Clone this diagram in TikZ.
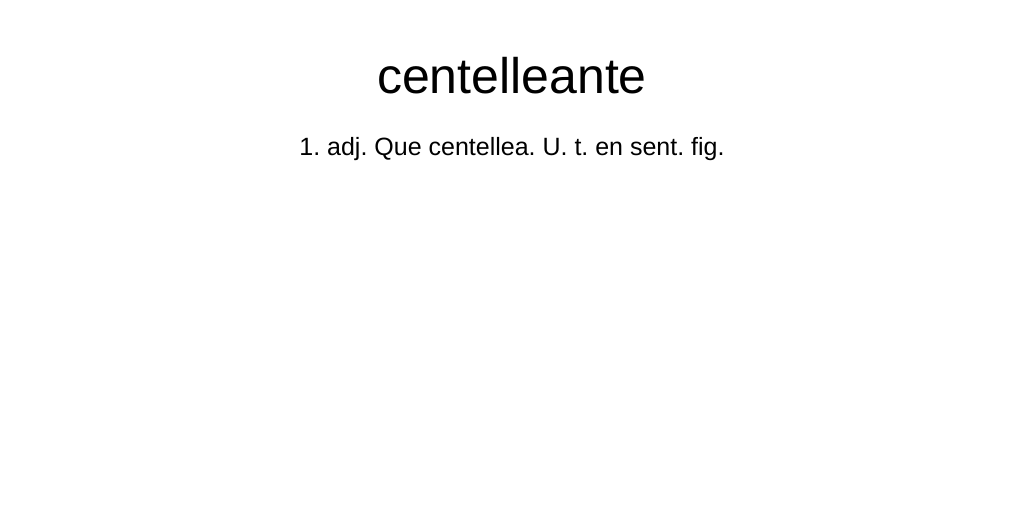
\documentclass[tikz,border=0pt]{standalone}
\usepackage{fontspec}
\setmainfont{Liberation Sans}
\frenchspacing
\tikzstyle{headword}=[anchor=base,inner sep=0pt,font=\fontsize{50}{60}\selectfont]
\tikzstyle{sense}=[anchor=base,inner sep=0pt,font=\fontsize{25}{30}\selectfont]
\begin{document}
\begin{tikzpicture}[x=1pt,y=1pt]
\useasboundingbox[fill=white] (0,0) rectangle (1024,-512);
\node[headword] at (512, -93) (word) {centelleante};
\node[sense] at (512, -155) (def) {1. adj. Que centellea. U. t. en sent. fig.};
\end{tikzpicture}
\end{document}
